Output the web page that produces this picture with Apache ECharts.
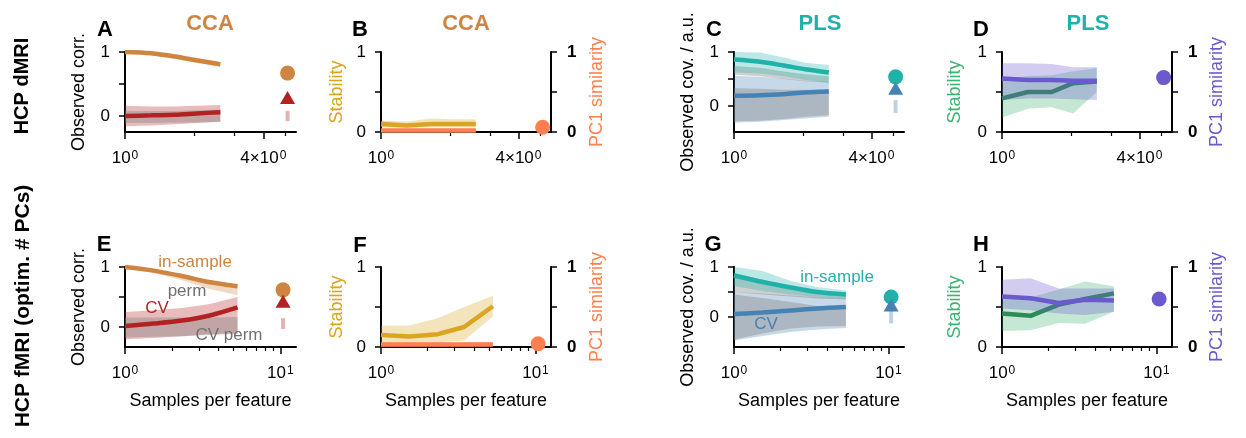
<!DOCTYPE html>
<html><head><meta charset="utf-8">
<script src="https://cdn.jsdelivr.net/npm/echarts@6/dist/echarts.min.js"></script>
<style>html,body{margin:0;padding:0;background:#fff}#c{width:1246px;height:438px}</style>
</head><body><div id="c"></div>
<script>
// ---------------- data ----------------
const xsTop = [1.0, 1.3, 1.65, 2.05, 2.6];
const xsBot = [1.0, 1.53, 2.33, 3.45, 5.3];
const xFullTop = 5.1;
const xFullBot = 10.4;
const xMaxTop = 5.55, xMaxBot = 12.6;
const xTicksTop = [1, 4], xTickLabelsTop = ['10^0', '4×10^0'], xMinorTop = [2, 3, 5];
const xTicksBot = [1, 10], xTickLabelsBot = ['10^0', '10^1'], xMinorBot = [2, 3, 4, 5, 6, 7, 8, 9];
const yTicks = [0, 0.5, 1], yTickLabels = [0, 1];

// A: CCA, HCP dMRI
const A_in = [1.0, 0.98, 0.93, 0.87, 0.81];
const A_inLo = [0.98, 0.95, 0.89, 0.83, 0.77];
const A_inHi = [1.0, 0.99, 0.94, 0.88, 0.82];
const A_cv = [0.0, 0.01, 0.02, 0.04, 0.06];
const A_cvLo = [-0.16, -0.15, -0.13, -0.11, -0.09];
const A_cvHi = [0.16, 0.15, 0.15, 0.16, 0.17];
const A_permLo = [-0.11, -0.11, -0.1, -0.1, -0.09];
const A_permHi = [0.08, 0.08, 0.08, 0.09, 0.1];
const A_fullIn = 0.67, A_fullCv = 0.29, A_fullPerm = [-0.08, 0.08];

// B: CCA stability, HCP dMRI
const B_stab = [0.1, 0.08, 0.1, 0.1, 0.1];
const B_stabLo = [0.06, 0.05, 0.06, 0.06, 0.06];
const B_stabHi = [0.14, 0.13, 0.17, 0.16, 0.16];
const B_pc1 = [0.02, 0.02, 0.02, 0.02, 0.02];
const B_pc1Lo = [0, 0, 0, 0, 0];
const B_pc1Hi = [0.04, 0.04, 0.04, 0.04, 0.04];
const B_fullPc1 = 0.06;

// C: PLS, HCP dMRI
const C_in = [0.86, 0.82, 0.75, 0.68, 0.62];
const C_inLo = [0.62, 0.6, 0.55, 0.48, 0.42];
const C_inHi = [1.0, 0.99, 0.9, 0.8, 0.76];
const C_inPermLo = [0.58, 0.55, 0.5, 0.46, 0.44];
const C_inPermHi = [0.74, 0.71, 0.64, 0.59, 0.55];
const C_cv = [0.19, 0.2, 0.22, 0.25, 0.27];
const C_cvLo = [-0.31, -0.29, -0.26, -0.23, -0.2];
const C_cvHi = [0.56, 0.54, 0.51, 0.47, 0.45];
const C_permLo = [-0.28, -0.27, -0.24, -0.2, -0.17];
const C_permHi = [0.33, 0.32, 0.3, 0.3, 0.3];
const C_fullIn = 0.54, C_fullCv = 0.33, C_fullPerm = [-0.13, 0.11];

// D: PLS stability, HCP dMRI
const D_stab = [0.42, 0.5, 0.5, 0.61, 0.63];
const D_stabLo = [0.18, 0.29, 0.31, 0.23, 0.5];
const D_stabHi = [0.66, 0.7, 0.71, 0.76, 0.8];
const D_pc1 = [0.67, 0.65, 0.65, 0.64, 0.64];
const D_pc1Lo = [0.4, 0.42, 0.42, 0.41, 0.4];
const D_pc1Hi = [0.86, 0.86, 0.85, 0.81, 0.81];
const D_fullPc1 = 0.68;

// E: CCA, HCP fMRI
const E_in = [1.0, 0.94, 0.85, 0.75, 0.68];
const E_inLo = [0.98, 0.9, 0.78, 0.64, 0.53];
const E_inHi = [1.0, 0.96, 0.87, 0.77, 0.69];
const E_cv = [0.02, 0.06, 0.11, 0.19, 0.33];
const E_cvLo = [-0.2, -0.18, -0.15, -0.12, -0.1];
const E_cvHi = [0.25, 0.28, 0.32, 0.38, 0.5];
const E_permLo = [-0.17, -0.16, -0.15, -0.13, -0.11];
const E_permHi = [0.16, 0.16, 0.16, 0.16, 0.17];
const E_fullIn = 0.62, E_fullCv = 0.43, E_fullPerm = [-0.03, 0.15];

// F: CCA stability, HCP fMRI
const F_stab = [0.15, 0.13, 0.16, 0.25, 0.51];
const F_stabLo = [0.05, 0.05, 0.06, 0.08, 0.38];
const F_stabHi = [0.27, 0.27, 0.36, 0.5, 0.64];
const F_pc1 = [0.03, 0.03, 0.03, 0.03, 0.03];
const F_pc1Lo = [0, 0, 0, 0, 0];
const F_pc1Hi = [0.06, 0.06, 0.06, 0.06, 0.06];
const F_fullPc1 = 0.04;

// G: PLS, HCP fMRI
const G_in = [0.83, 0.7, 0.59, 0.5, 0.45];
const G_inLo = [0.62, 0.52, 0.45, 0.4, 0.37];
const G_inHi = [1.0, 0.92, 0.72, 0.6, 0.53];
const G_inPermLo = [0.5, 0.45, 0.41, 0.37, 0.35];
const G_inPermHi = [0.88, 0.75, 0.6, 0.52, 0.48];
const G_cv = [0.06, 0.09, 0.13, 0.17, 0.2];
const G_cvLo = [-0.47, -0.38, -0.3, -0.25, -0.22];
const G_cvHi = [0.5, 0.47, 0.43, 0.4, 0.38];
const G_permLo = [-0.45, -0.33, -0.23, -0.19, -0.18];
const G_permHi = [0.45, 0.38, 0.3, 0.22, 0.15];
const G_fullIn = 0.4, G_fullCv = 0.24, G_fullPerm = [-0.13, 0.14];

// H: PLS stability, HCP fMRI
const H_stab = [0.42, 0.39, 0.53, 0.6, 0.67];
const H_stabLo = [0.2, 0.21, 0.3, 0.29, 0.44];
const H_stabHi = [0.6, 0.62, 0.72, 0.82, 0.76];
const H_pc1 = [0.63, 0.61, 0.55, 0.59, 0.58];
const H_pc1Lo = [0.48, 0.46, 0.42, 0.4, 0.44];
const H_pc1Hi = [0.84, 0.86, 0.73, 0.73, 0.73];
const H_fullPc1 = 0.6;

// ---------------- styling ----------------
const FONT = '"Liberation Sans", Arial, Helvetica, sans-serif';
const ORANGE = '#CD853F', RED = '#B22222', GRAY = 'rgba(128,128,128,0.38)';
const TEAL = '#20B2AA', BLUE = '#4682B4';
const GOLD = '#DAA520', CORAL = '#FF7F50';
const GREEN = '#3CB371', GREEN_D = '#2E8B57', PURPLE = '#6A5ACD';
const LW = 4.5;

const L = Math.log10;

const panels = [
  {grid: {left: 125, top: 52, width: 171, height: 80}, row: 0, ymin: -0.25, leftName: 'Observed corr.', leftColor: '#000', leftGap: 37},
  {grid: {left: 381, top: 52, width: 170, height: 80}, row: 0, ymin: 0, leftName: 'Stability', leftColor: GOLD, leftGap: 35, rightName: 'PC1 similarity', rightColor: CORAL, rightGap: 37},
  {grid: {left: 734, top: 52, width: 170, height: 80}, row: 0, ymin: -0.48, leftName: 'Observed cov. / a.u.', leftColor: '#000', leftGap: 37},
  {grid: {left: 1002, top: 52, width: 170, height: 80}, row: 0, ymin: 0, leftName: 'Stability', leftColor: GREEN, leftGap: 38, rightName: 'PC1 similarity', rightColor: PURPLE, rightGap: 36},
  {grid: {left: 125, top: 267, width: 171, height: 80}, row: 1, ymin: -0.33, leftName: 'Observed corr.', leftColor: '#000', leftGap: 37},
  {grid: {left: 381, top: 267, width: 170, height: 80}, row: 1, ymin: 0, leftName: 'Stability', leftColor: GOLD, leftGap: 35, rightName: 'PC1 similarity', rightColor: CORAL, rightGap: 37},
  {grid: {left: 734, top: 267, width: 170, height: 80}, row: 1, ymin: -0.6, leftName: 'Observed cov. / a.u.', leftColor: '#000', leftGap: 37},
  {grid: {left: 1002, top: 267, width: 170, height: 80}, row: 1, ymin: 0, leftName: 'Stability', leftColor: GREEN, leftGap: 38, rightName: 'PC1 similarity', rightColor: PURPLE, rightGap: 36}
];

const grids = [], xAxes = [], yAxes = [], axRef = [];
panels.forEach((p, i) => {
  grids.push(Object.assign({containLabel: false}, p.grid));
  const top = p.row === 0;
  const ticks = top ? xTicksTop : xTicksBot;
  const labels = top ? xTickLabelsTop : xTickLabelsBot;
  const minor = top ? xMinorTop : xMinorBot;
  const xmax = L(top ? xMaxTop : xMaxBot);
  const xi = xAxes.length;
  xAxes.push({
    type: 'value', gridIndex: i, min: 0, max: xmax, position: 'bottom',
    axisLine: {show: true, onZero: false, lineStyle: {color: '#000', width: 2}},
    axisTick: {show: true, length: 7, lineStyle: {color: '#000', width: 1.5}, customValues: ticks.map(L)},
    axisLabel: {show: true, customValues: ticks.map(L), color: '#000', fontFamily: FONT, margin: 18,
      formatter: v => {
        const k = ticks.findIndex(t => Math.abs(L(t) - v) < 1e-6);
        if (k < 0) return '';
        const parts = labels[k].split('^');
        return '{b|' + parts[0] + '}{s|' + parts[1] + '}';
      },
      rich: {
        b: {fontSize: 17, fontFamily: FONT, color: '#000'},
        s: {fontSize: 12, fontFamily: FONT, color: '#000', verticalAlign: 'top', padding: [0, 0, 0, 1]}
      }},
    splitLine: {show: false},
    name: top ? '' : 'Samples per feature', nameLocation: 'middle', nameGap: 45,
    nameTextStyle: {fontSize: 18, color: '#000', fontFamily: FONT}
  });
  xAxes.push({
    type: 'value', gridIndex: i, min: 0, max: xmax, position: 'bottom',
    axisLine: {show: false, onZero: false},
    axisTick: {show: true, length: 4, lineStyle: {color: '#000', width: 1.2}, customValues: minor.map(L)},
    axisLabel: {show: false}, splitLine: {show: false}
  });
  const yi = yAxes.length;
  yAxes.push({
    type: 'value', gridIndex: i, min: p.ymin, max: 1, position: 'left',
    axisLine: {show: true, onZero: false, lineStyle: {color: '#000', width: 2}},
    axisTick: {show: true, length: 6, lineStyle: {color: '#000', width: 1.5}, customValues: yTicks},
    axisLabel: {show: true, customValues: yTickLabels, fontSize: 17, color: '#000', fontFamily: FONT, margin: 15},
    splitLine: {show: false},
    name: p.leftName, nameLocation: 'middle', nameRotate: 90, nameGap: p.leftGap,
    nameTextStyle: {fontSize: 18, color: p.leftColor, fontFamily: FONT}
  });
  if (p.rightName) {
    yAxes.push({
      type: 'value', gridIndex: i, min: p.ymin, max: 1, position: 'right',
      axisLine: {show: true, onZero: false, lineStyle: {color: '#000', width: 2}},
      axisTick: {show: true, length: 6, lineStyle: {color: '#000', width: 1.5}, customValues: yTicks},
      axisLabel: {show: true, customValues: yTickLabels, fontSize: 17, fontWeight: 'bold', color: '#000', fontFamily: FONT, margin: 16},
      splitLine: {show: false},
      name: p.rightName, nameLocation: 'middle', nameRotate: 90, nameGap: p.rightGap,
      nameTextStyle: {fontSize: 18, color: p.rightColor, fontFamily: FONT}
    });
  }
  axRef.push({x: xi, y: yi});
});

// ---------------- series helpers ----------------
let zc = 1;
function band(ax, xs, lo, hi, color) {
  const d = xs.map((x, i) => [L(x), lo[i], hi[i]]);
  return {
    type: 'custom', xAxisIndex: ax.x, yAxisIndex: ax.y, silent: true, z: zc++, clip: false,
    encode: {x: 0, y: [1, 2]}, data: d,
    renderItem: (params, api) => {
      if (params.dataIndex !== 0) return null;
      const pts = [];
      d.forEach(q => pts.push(api.coord([q[0], q[2]])));
      for (let k = d.length - 1; k >= 0; k--) pts.push(api.coord([d[k][0], d[k][1]]));
      return {type: 'polygon', shape: {points: pts}, style: {fill: color}};
    }
  };
}
function line(ax, xs, ys, color, smooth) {
  return {
    type: 'line', xAxisIndex: ax.x, yAxisIndex: ax.y, data: xs.map((x, i) => [L(x), ys[i]]),
    showSymbol: false, symbol: 'none', smooth: smooth ? 0.3 : false, silent: true, z: zc++,
    lineStyle: {color: color, width: LW, cap: 'butt'}, itemStyle: {color: color}
  };
}
function mark(ax, x, y, symbol, color, size) {
  return {
    type: 'scatter', xAxisIndex: ax.x, yAxisIndex: ax.y, data: [[L(x), y]], symbol: symbol,
    symbolSize: size, itemStyle: {color: color, opacity: 1}, z: zc++, silent: true
  };
}
function seg(ax, x, lohi, color) {
  return {
    type: 'line', xAxisIndex: ax.x, yAxisIndex: ax.y, data: [[L(x), lohi[0]], [L(x), lohi[1]]],
    showSymbol: false, symbol: 'none', silent: true, z: zc++, lineStyle: {color: color, width: 4, cap: 'butt'}
  };
}

const S = [];
const fa = (c, a) => { const n = parseInt(c.slice(1), 16); return `rgba(${n >> 16},${(n >> 8) & 255},${n & 255},${a})`; };
// A
S.push(band(axRef[0], xsTop, A_cvLo, A_cvHi, fa(RED, 0.3)));
S.push(band(axRef[0], xsTop, A_permLo, A_permHi, GRAY));
S.push(band(axRef[0], xsTop, A_inLo, A_inHi, fa(ORANGE, 0.3)));
S.push(line(axRef[0], xsTop, A_in, ORANGE, true));
S.push(line(axRef[0], xsTop, A_cv, RED, true));
S.push(seg(axRef[0], xFullTop, A_fullPerm, fa(RED, 0.35)));
S.push(mark(axRef[0], xFullTop, A_fullIn, 'circle', ORANGE, 15));
S.push(mark(axRef[0], xFullTop, A_fullCv, 'triangle', RED, [15, 13]));
// B
S.push(band(axRef[1], xsTop, B_stabLo, B_stabHi, fa(GOLD, 0.3)));
S.push(line(axRef[1], xsTop, B_stab, GOLD, false));
S.push(band(axRef[1], xsTop, B_pc1Lo, B_pc1Hi, fa(CORAL, 0.3)));
S.push(line(axRef[1], xsTop, B_pc1, CORAL, false));
S.push(mark(axRef[1], xFullTop, B_fullPc1, 'circle', CORAL, 15));
// C
S.push(band(axRef[2], xsTop, C_cvLo, C_cvHi, fa(BLUE, 0.3)));
S.push(band(axRef[2], xsTop, C_permLo, C_permHi, GRAY));
S.push(band(axRef[2], xsTop, C_inPermLo, C_inPermHi, GRAY));
S.push(band(axRef[2], xsTop, C_inLo, C_inHi, fa(TEAL, 0.3)));
S.push(line(axRef[2], xsTop, C_in, TEAL, true));
S.push(line(axRef[2], xsTop, C_cv, BLUE, true));
S.push(seg(axRef[2], xFullTop, C_fullPerm, fa(BLUE, 0.35)));
S.push(mark(axRef[2], xFullTop, C_fullIn, 'circle', TEAL, 15));
S.push(mark(axRef[2], xFullTop, C_fullCv, 'triangle', BLUE, [15, 13]));
// D
S.push(band(axRef[3], xsTop, D_stabLo, D_stabHi, fa(GREEN, 0.3)));
S.push(line(axRef[3], xsTop, D_stab, GREEN_D, false));
S.push(band(axRef[3], xsTop, D_pc1Lo, D_pc1Hi, fa(PURPLE, 0.3)));
S.push(line(axRef[3], xsTop, D_pc1, PURPLE, false));
S.push(mark(axRef[3], xFullTop, D_fullPc1, 'circle', PURPLE, 15));
// E
S.push(band(axRef[4], xsBot, E_cvLo, E_cvHi, fa(RED, 0.3)));
S.push(band(axRef[4], xsBot, E_permLo, E_permHi, GRAY));
S.push(band(axRef[4], xsBot, E_inLo, E_inHi, fa(ORANGE, 0.3)));
S.push(line(axRef[4], xsBot, E_in, ORANGE, true));
S.push(line(axRef[4], xsBot, E_cv, RED, true));
S.push(seg(axRef[4], xFullBot, E_fullPerm, fa(RED, 0.35)));
S.push(mark(axRef[4], xFullBot, E_fullIn, 'circle', ORANGE, 15));
S.push(mark(axRef[4], xFullBot, E_fullCv, 'triangle', RED, [15, 13]));
// F
S.push(band(axRef[5], xsBot, F_stabLo, F_stabHi, fa(GOLD, 0.3)));
S.push(line(axRef[5], xsBot, F_stab, GOLD, false));
S.push(band(axRef[5], xsBot, F_pc1Lo, F_pc1Hi, fa(CORAL, 0.3)));
S.push(line(axRef[5], xsBot, F_pc1, CORAL, false));
S.push(mark(axRef[5], xFullBot, F_fullPc1, 'circle', CORAL, 15));
// G
S.push(band(axRef[6], xsBot, G_cvLo, G_cvHi, fa(BLUE, 0.3)));
S.push(band(axRef[6], xsBot, G_permLo, G_permHi, GRAY));
S.push(band(axRef[6], xsBot, G_inPermLo, G_inPermHi, GRAY));
S.push(band(axRef[6], xsBot, G_inLo, G_inHi, fa(TEAL, 0.3)));
S.push(line(axRef[6], xsBot, G_in, TEAL, true));
S.push(line(axRef[6], xsBot, G_cv, BLUE, true));
S.push(seg(axRef[6], xFullBot, G_fullPerm, fa(BLUE, 0.35)));
S.push(mark(axRef[6], xFullBot, G_fullIn, 'circle', TEAL, 15));
S.push(mark(axRef[6], xFullBot, G_fullCv, 'triangle', BLUE, [15, 13]));
// H
S.push(band(axRef[7], xsBot, H_stabLo, H_stabHi, fa(GREEN, 0.3)));
S.push(line(axRef[7], xsBot, H_stab, GREEN_D, false));
S.push(band(axRef[7], xsBot, H_pc1Lo, H_pc1Hi, fa(PURPLE, 0.3)));
S.push(line(axRef[7], xsBot, H_pc1, PURPLE, false));
S.push(mark(axRef[7], xFullBot, H_fullPc1, 'circle', PURPLE, 15));

// ---------------- texts ----------------
function txt(x, y, text, font, fill, rot) {
  return {type: 'text', x: x, y: y, rotation: rot || 0, silent: true, z: 1000,
    style: {text: text, font: font, fill: fill, align: 'center', verticalAlign: 'middle'}};
}
const BOLD22 = 'bold 22px ' + FONT, BOLD20 = 'bold 20px ' + FONT, BOLD21 = 'bold 21px ' + FONT, T17 = '17px ' + FONT;
const graphics = [
  txt(22, 86, 'HCP dMRI', BOLD20, '#000', Math.PI / 2),
  txt(23, 306, 'HCP fMRI (optim. # PCs)', BOLD21, '#000', Math.PI / 2),
  txt(105, 30, 'A', BOLD22, '#000'), txt(360, 30, 'B', BOLD22, '#000'),
  txt(714, 30, 'C', BOLD22, '#000'), txt(981, 30, 'D', BOLD22, '#000'),
  txt(104, 245, 'E', BOLD22, '#000'), txt(360, 246, 'F', BOLD22, '#000'),
  txt(713, 245, 'G', BOLD22, '#000'), txt(981, 245, 'H', BOLD22, '#000'),
  txt(210, 24, 'CCA', BOLD22, ORANGE), txt(466, 24, 'CCA', BOLD22, ORANGE),
  txt(820, 24, 'PLS', BOLD22, TEAL), txt(1088, 24, 'PLS', BOLD22, TEAL),
  txt(195, 262, 'in-sample', T17, ORANGE),
  txt(187, 291, 'perm', T17, '#707070'),
  txt(157, 308, 'CV', T17, RED),
  txt(229, 335, 'CV perm', T17, '#707070'),
  txt(837, 277, 'in-sample', T17, TEAL),
  txt(766, 324, 'CV', T17, BLUE)
];

const chart = echarts.init(document.getElementById('c'), null, {renderer: 'canvas'});
chart.setOption({
  animation: false,
  backgroundColor: '#fff',
  textStyle: {fontFamily: FONT},
  grid: grids, xAxis: xAxes, yAxis: yAxes, series: S, graphic: graphics
});
</script></body></html>
